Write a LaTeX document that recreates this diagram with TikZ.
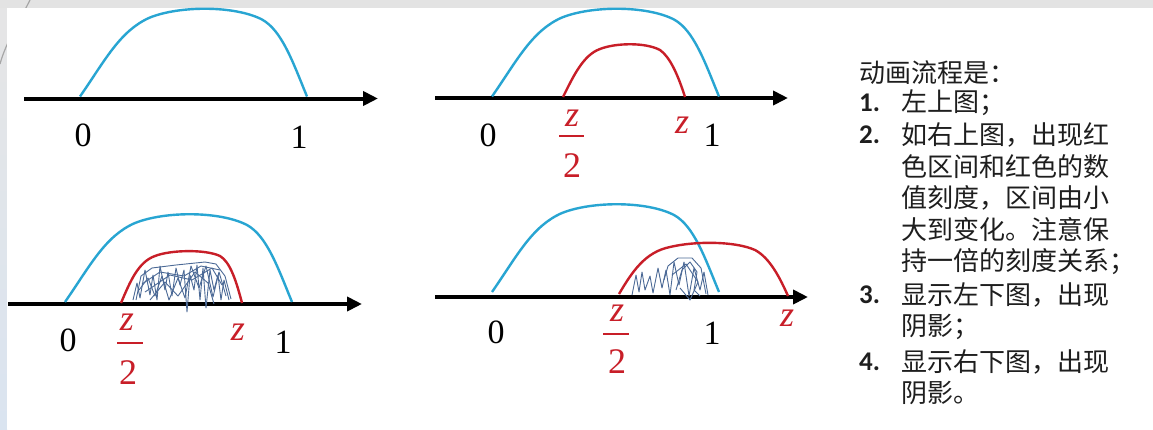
\documentclass[tikz,border=0pt]{standalone}
\usepackage{fontspec}
\setmainfont{Liberation Serif}
\newfontfamily\cjk{Noto Sans CJK SC}
\newfontfamily\numf{Carlito}
\usetikzlibrary{arrows.meta}
\definecolor{bluec}{RGB}{40,165,210}
\definecolor{redc}{RGB}{200,30,40}
\definecolor{scrib}{RGB}{75,105,150}
\definecolor{txt}{RGB}{30,30,30}
\tikzset{
  axisline/.style={line width=4pt,-{Triangle[length=15pt,width=14pt]}},
  bluecurve/.style={bluec,line width=2.4pt},
  redcurve/.style={redc,line width=2.4pt},
  digit/.style={inner sep=0pt,font=\fontsize{34}{36}\selectfont},
  zlab/.style={inner sep=0pt,text=redc,font=\fontsize{36}{38}\selectfont\itshape},
  twolab/.style={inner sep=0pt,text=redc,font=\fontsize{36}{38}\selectfont},
  fracbar/.style={redc,line width=2.2pt},
  scribble/.style={scrib,line width=0.9pt,line join=round},
  cjktext/.style={inner sep=0pt,anchor=west,text=txt,font=\fontsize{26}{28}\selectfont\cjk},
  numtext/.style={inner sep=0pt,anchor=west,text=txt,font=\fontsize{27}{28}\selectfont\numf\bfseries},
  bluebump/.pic={\draw[bluecurve] (0,0) .. controls (25,-36) and (40,-66) .. (70,-79)
      .. controls (100,-91) and (155,-91) .. (182,-77)
      .. controls (202,-66) and (213,-34) .. (227,0);}
}
\begin{document}
\begin{tikzpicture}[x=1pt,y=-1pt]
\useasboundingbox (0,0) rectangle (1153,429);
% background
\fill[gray!22] (0,0) rectangle (1153,429);
\shade[top color=gray!20,bottom color={rgb,255:red,218;green,228;blue,240}] (0,8) rectangle (7,429);
\draw[gray!70,line width=1.2pt] (30,0) .. controls (20,20) and (6,42) .. (0,64);
\fill[white] (7,8) rectangle (1153,429);

% ---------- top left ----------
\coordinate (a1s) at (24,98.5); \coordinate (a1e) at (378,98.5);
\draw[axisline] (a1s) -- (a1e);
\pic at (80,96.5) {bluebump};
\node[digit] (tl0) at (83,135) {0};
\node[digit] (tl1) at (299,137) {1};

% ---------- top right ----------
\coordinate (a2s) at (435,98); \coordinate (a2e) at (788,98);
\draw[axisline] (a2s) -- (a2e);
\pic at (492,96.5) {bluebump};
\draw[redcurve] (563,97) .. controls (573,77) and (583,55) .. (600,49)
   .. controls (615,43) and (645,42) .. (660,50)
   .. controls (670,57) and (678,75) .. (685,97);
\node[digit] (tr0) at (488,135) {0};
\node[zlab] (trz1) at (572,118) {z};
\coordinate (trb1) at (559,136); \coordinate (trb2) at (584,136);
\draw[fracbar] (trb1) -- (trb2);
\node[twolab] (tr2) at (572,166) {2};
\node[zlab] (trz2) at (682,125) {z};
\node[digit] (tr1) at (712,135) {1};

% ---------- bottom left ----------
\coordinate (a3s) at (8,304); \coordinate (a3e) at (362,304);
\draw[axisline] (a3s) -- (a3e);
\pic at (65,302) {bluebump};
\draw[redcurve] (121,303) .. controls (130,282) and (138,262) .. (155,256)
   .. controls (170,250) and (205,249) .. (220,256)
   .. controls (230,262) and (236,280) .. (242,303);
\draw[scribble] (133,300) -- (137,283) -- (140,298) -- (145,270) -- (150,295) -- (153,275)
   -- (157,300) -- (160,266) -- (165,290) -- (168,272) -- (172,296) -- (176,268)
   -- (180,285) -- (184,270) -- (187,312) -- (190,275) -- (194,290) -- (197,265)
   -- (200,300) -- (203,268) -- (206,308) -- (210,270) -- (214,290) -- (218,275)
   -- (221,300) -- (224,280) -- (229,300);
\draw[scribble] (136,300) -- (141,276) -- (152,268) -- (176,265) -- (205,262)
   -- (216,264) -- (225,276) -- (231,299);
\draw[scribble] (145,292) -- (170,275) -- (192,280) -- (212,268) -- (222,285);
\draw[scribble] (150,300) -- (165,282) -- (178,296) -- (195,272) -- (208,283) -- (214,304);
\draw[scribble] (139,290) -- (148,278) -- (155,296) -- (162,276) -- (169,300) -- (178,278)
   -- (185,298) -- (191,266) -- (199,288) -- (206,266) -- (213,297) -- (219,272) -- (226,296);
\draw[scribble] (142,284) -- (160,272) -- (184,276) -- (201,266) -- (220,270);
\node[digit] (bl0) at (68,340) {0};
\node[zlab] (blz1) at (127,322) {z};
\coordinate (blb1) at (117,343); \coordinate (blb2) at (143,343);
\draw[fracbar] (blb1) -- (blb2);
\node[twolab] (bl2) at (128,373) {2};
\node[zlab] (blz2) at (238,332) {z};
\node[digit] (bl1) at (283,342) {1};

% ---------- bottom right ----------
\coordinate (a4s) at (435,297); \coordinate (a4e) at (808,297);
\draw[axisline] (a4s) -- (a4e);
\pic at (492,292) {bluebump};
\draw[redcurve] (619,294) .. controls (632,272) and (645,252) .. (670,247)
   .. controls (695,241) and (735,241) .. (755,250)
   .. controls (770,258) and (780,278) .. (788,296);
\draw[scribble] (632,295) -- (636,275) -- (639,292) -- (642,272) -- (645,290) -- (650,276)
   -- (653,293) -- (658,268) -- (662,288) -- (666,270) -- (670,295) -- (674,262)
   -- (679,285) -- (684,262) -- (689,296) -- (694,268) -- (700,290) -- (704,272) -- (708,295);
\draw[scribble] (664,280) -- (668,266) -- (678,258) -- (692,258) -- (701,268) -- (706,294);
\draw[scribble] (672,275) -- (686,264) -- (698,282) -- (690,300) -- (680,288);
\draw[scribble] (676,290) -- (682,270) -- (690,262) -- (697,272) -- (694,290) -- (700,296);
\node[digit] (br0) at (496,332) {0};
\node[zlab] (brz1) at (617,313) {z};
\coordinate (brb1) at (603,334); \coordinate (brb2) at (629,334);
\draw[fracbar] (brb1) -- (brb2);
\node[twolab] (br2) at (617,362) {2};
\node[digit] (br1) at (712,333) {1};
\node[zlab] (brz2) at (787,318) {z};

% ---------- text ----------
\node[cjktext] (t0) at (859,73) {动画流程是：};
\node[numtext] (n1) at (859,103) {1.};
\node[cjktext] (t1) at (901,103) {左上图；};
\node[numtext] (n2) at (859,135) {2.};
\node[cjktext] (t2) at (901,135) {如右上图，出现红};
\node[cjktext] (t3) at (901,167) {色区间和红色的数};
\node[cjktext] (t4) at (901,198) {值刻度，区间由小};
\node[cjktext] (t5) at (901,230) {大到变化。注意保};
\node[cjktext] (t6) at (901,262) {持一倍的刻度关系；};
\node[numtext] (n3) at (859,295) {3.};
\node[cjktext] (t7) at (901,295) {显示左下图，出现};
\node[cjktext] (t8) at (901,327) {阴影；};
\node[numtext] (n4) at (859,362) {4.};
\node[cjktext] (t9) at (901,362) {显示右下图，出现};
\node[cjktext] (t10) at (901,393) {阴影。};
\end{tikzpicture}
\end{document}
